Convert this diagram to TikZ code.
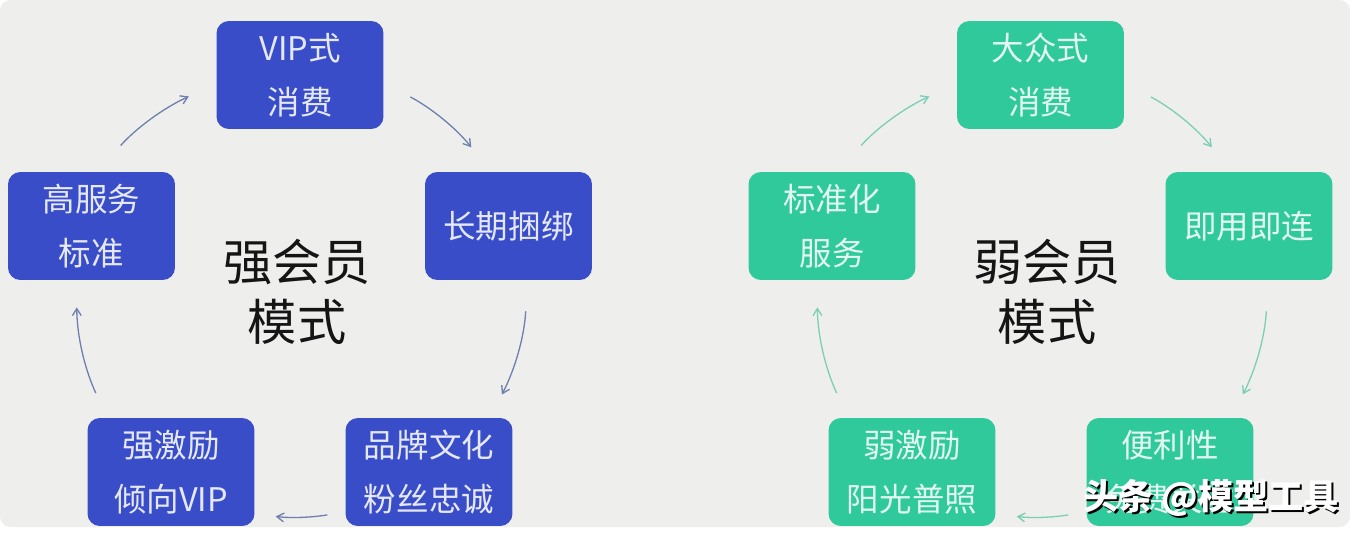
\documentclass[tikz,border=0pt]{standalone}
\usepackage{fontspec}
\setmainfont{Noto Sans CJK SC}
\usetikzlibrary{arrows.meta,positioning}
\definecolor{paperGray}{HTML}{EEEFEC}
\definecolor{strongBlue}{HTML}{3A4DC9}
\definecolor{weakGreen}{HTML}{2FC99C}
\definecolor{strongText}{HTML}{E4E8F8}
\definecolor{weakText}{HTML}{E2F7EF}
\definecolor{strongArrow}{HTML}{6E7FB0}
\definecolor{weakArrow}{HTML}{7CCFB6}
\definecolor{titleInk}{HTML}{151515}
\tikzset{
  member/.style={rounded corners=7pt,minimum width=3.34cm,minimum height=2.16cm,
    inner sep=0pt,align=center,font=\fontsize{18.5}{31}\selectfont},
  strong/.style={member,fill=strongBlue,text=strongText},
  weak/.style={member,fill=weakGreen,text=weakText},
  mode/.style={align=center,text=titleInk,font=\fontsize{28}{34}\selectfont},
  flow/.style={-{Straight Barb[length=4pt,width=5pt]},line width=.75pt},
  stamp/.style={font=\fontsize{20}{24}\selectfont\bfseries}
}
\begin{document}
\begin{tikzpicture}[x=0.02cm,y=-0.02cm]
  \useasboundingbox (0,0) rectangle (1350,534);
  \fill[white] (0,0) rectangle (1350,534);
  \fill[paperGray,rounded corners=6pt] (0,0) rectangle (1350,527);

  % strong membership
  \node[strong] (s1) at (300,75)    {VIP式\\消费};
  \node[strong] (s2) at (508.5,226) {长期捆绑};
  \node[strong] (s3) at (429,472)   {品牌文化\\粉丝忠诚};
  \node[strong] (s4) at (171,472)   {强激励\\倾向VIP};
  \node[strong] (s5) at (91.5,226)  {高服务\\标准};
  \node[mode] (sc) at (297,292) {强会员\\模式};

  % weak membership
  \node[weak] (w1) at (1040.5,75) {大众式\\消费};
  \node[weak] (w2) at (1249,226)  {即用即连};
  \node[weak] (w3) at (1170,472)  {便利性\\免费关注};
  \node[weak] (w4) at (912,472)   {弱激励\\阳光普照};
  \node[weak] (w5) at (832,226)   {标准化\\服务};
  \node[mode] (wc) at (1047,292) {弱会员\\模式};

  \foreach \g/\c in {s/strongArrow,w/weakArrow}{
    \draw[flow,\c,shorten <=.7cm,shorten >=.6cm]
      ([shift={(6,0)}]\g5.north) to[bend left=12] ([shift={(0,9)}]\g1.west);
    \draw[flow,\c,shorten <=.6cm,shorten >=.62cm]
      ([shift={(0,8)}]\g1.east) to[bend left=12] ([shift={(-18,0)}]\g2.north);
    \draw[flow,\c,shorten <=.62cm,shorten >=.52cm]
      ([shift={(19,0)}]\g2.south) to[bend left=12] ([shift={(61,0)}]\g3.north);
    \draw[flow,\c,shorten <=.36cm,shorten >=.42cm]
      ([shift={(0,40)}]\g3.west) to[bend left=8] ([shift={(0,42)}]\g4.east);
    \draw[flow,\c,shorten <=.54cm,shorten >=.54cm]
      ([shift={(-64,0)}]\g4.north) to[bend left=12] ([shift={(-15,0)}]\g5.south);
  }

  % watermark
  \node[stamp,text=black] (wmshade) at (1213,500) {头条 @模型工具};
  \node[stamp,text=white] (wm) at (1211,498) {头条 @模型工具};
\end{tikzpicture}
\end{document}
